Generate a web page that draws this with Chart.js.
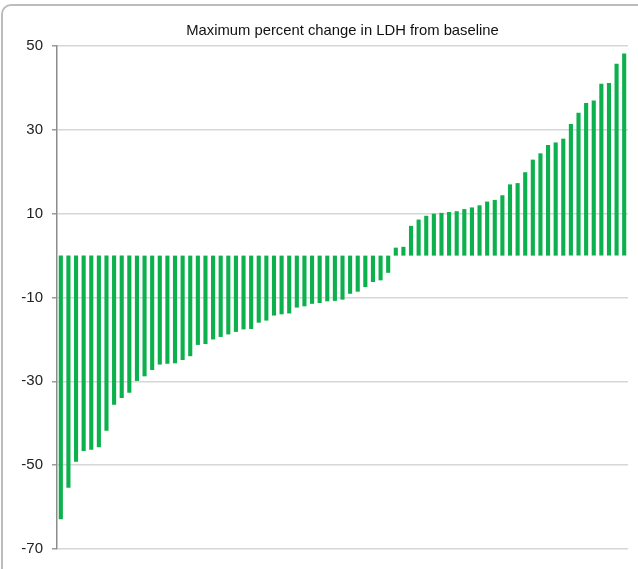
<!DOCTYPE html>
<html>
<head>
<meta charset="utf-8">
<script src="https://cdn.jsdelivr.net/npm/chart.js@4/dist/chart.umd.min.js"></script>
<style>
  html, body { margin: 0; padding: 0; background: #fff; overflow: hidden; }
  #wrap { position: relative; width: 638px; height: 569px; overflow: hidden; }
  #frame {
    position: absolute; left: 1px; top: 4px; width: 700px; height: 700px;
    border: 2px solid #bcbcbc; border-radius: 10px; box-sizing: border-box;
  }
  canvas { position: absolute; left: 0; top: 0; }
</style>
</head>
<body>
<div id="wrap">
  <div id="frame"></div>
  <canvas id="chart" width="638" height="569"></canvas>
</div>
<script>
// Per-patient maximum percent change in LDH, sorted from largest fall to largest rise
const patients = Array.from({ length: 75 }, (_, i) => 'P' + (i + 1));

const decreases = [
  -62.9, -55.4, -49.2, -46.6, -46.3, -45.7, -41.8, -35.6, -34.0, -32.7,
  -29.9, -28.8, -27.3, -26.0, -25.8, -25.7, -24.9, -24.0, -21.3, -21.1,
  -20.0, -19.4, -18.8, -18.2, -17.6, -17.5, -16.0, -15.5, -14.3, -14.0,
  -13.8, -12.4, -12.1, -11.5, -11.3, -10.9, -10.8, -10.5, -9.1, -8.6,
  -7.5, -6.3, -5.9, -4.1
];

const increases = [
  1.9, 2.1, 7.1, 8.6, 9.5, 10.0, 10.2, 10.4, 10.6, 11.1,
  11.5, 12.0, 12.9, 13.3, 14.4, 17.0, 17.3, 19.9, 22.9, 24.4,
  26.4, 27.0, 27.9, 31.4, 34.1, 36.4, 37.0, 41.0, 41.2, 45.8,
  48.2
];

const yTicks = [-70, -50, -30, -10, 10, 30, 50];

const changes = decreases.concat(increases);

Chart.defaults.font.family = '"Liberation Sans", Arial, sans-serif';

new Chart(document.getElementById('chart'), {
  type: 'bar',
  data: {
    labels: patients,
    datasets: [{
      data: changes,
      backgroundColor: '#0cb04c',
      borderWidth: 0,
      barPercentage: 0.54,
      categoryPercentage: 1.0
    }]
  },
  options: {
    responsive: false,
    animation: false,
    layout: { padding: { left: 0, right: 10, top: 0, bottom: 20 } },
    plugins: {
      legend: { display: false },
      tooltip: { enabled: false },
      title: {
        display: true,
        text: 'Maximum percent change in LDH from baseline',
        fullSize: false,
        color: '#111',
        font: { size: 14.8, weight: 'normal' },
        padding: { top: 22, bottom: 6.3 }
      }
    },
    scales: {
      x: {
        display: false
      },
      y: {
        min: yTicks[0],
        max: yTicks[yTicks.length - 1],
        afterBuildTicks(scale) {
          scale.ticks = yTicks.map(v => ({ value: v }));
        },
        afterFit(scale) { scale.width = 57; },
        ticks: {
          color: '#222',
          font: { size: 15 },
          padding: 9
        },
        grid: {
          color: '#d6d6d6',
          lineWidth: 1.6,
          tickColor: '#8c8c8c',
          tickLength: 5,
          tickWidth: 1.3
        },
        border: { color: '#8c8c8c', width: 1.5 }
      }
    }
  }
});
</script>
</body>
</html>
